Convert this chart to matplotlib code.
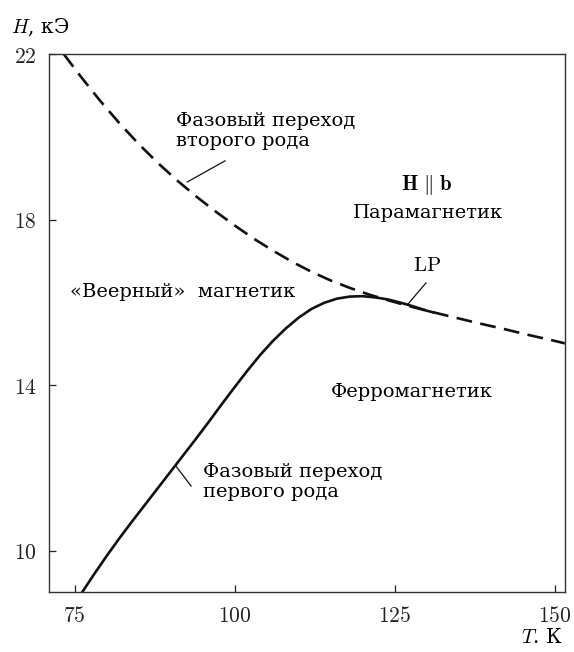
import matplotlib.pyplot as plt

plt.rcParams['font.family'] = ['DejaVu Serif']
plt.rcParams['mathtext.fontset'] = 'cm'

# Second-order transition (dashed)
t2 = [73.3, 76, 79, 82, 85, 88, 91, 94, 97, 100, 103, 106, 109, 112, 115,
      118, 121, 124, 127, 130, 134, 138, 142, 146, 150, 151.6]
h2 = [22.0, 21.45, 20.87, 20.33, 19.83, 19.37, 18.95, 18.56, 18.2, 17.86,
      17.54, 17.25, 16.98, 16.74, 16.53, 16.35, 16.19, 16.05, 15.92, 15.80,
      15.65, 15.50, 15.36, 15.21, 15.07, 15.01]

# First-order transition (solid)
t1 = [76.2, 78, 80, 82, 84, 86, 88, 90, 92, 94, 96, 98, 100, 102, 104, 106,
      108, 110, 112, 114, 116, 118, 120, 122, 124, 126, 128, 130, 131]
h1 = [9.0, 9.42, 9.87, 10.3, 10.71, 11.11, 11.51, 11.91, 12.31, 12.71, 13.12,
      13.54, 13.95, 14.35, 14.73, 15.07, 15.37, 15.63, 15.84, 15.99, 16.09,
      16.14, 16.15, 16.12, 16.07, 15.99, 15.90, 15.80, 15.76]

xticks = [75, 100, 125, 150]
yticks = [10, 14, 18, 22]

fig = plt.figure(figsize=(5.74, 6.52), dpi=100)
ax = fig.add_axes([0.0854, 0.092, 0.8986, 0.825])

ax.plot(t2, h2, color='#111111', lw=1.9, dashes=(6, 3.2))
ax.plot(t1, h1, color='#111111', lw=1.9)

# leader lines
ax.plot([98.5, 92.6], [19.42, 18.91], color='#111111', lw=0.9)
ax.plot([90.8, 93.2], [12.05, 11.56], color='#111111', lw=0.9)
ax.plot([129.9, 127.1], [16.47, 15.96], color='#111111', lw=0.9)

fs = 14
ax.text(90.8, 20.14, 'Фазовый переход\nвторого рода', fontsize=fs,
        ha='left', va='center', linespacing=1.1)
ax.text(95.1, 11.66, 'Фазовый переход\nпервого рода', fontsize=fs,
        ha='left', va='center', linespacing=1.1)
ax.text(74.3, 16.25, '«Веерный»  магнетик', fontsize=fs, ha='left', va='center')
ax.text(130.1, 18.84, r'$\mathbf{H}\ \|\ \mathbf{b}$', fontsize=fs + 1,
        ha='center', va='center')
ax.text(130.2, 18.16, 'Парамагнетик', fontsize=fs, ha='center', va='center')
ax.text(130.1, 16.88, r'$\mathrm{LP}$', fontsize=fs + 1, ha='center', va='center')
ax.text(127.7, 13.84, 'Ферромагнетик', fontsize=fs, ha='center', va='center')

ax.set_xlim(71, 151.6)
ax.set_ylim(9, 22)
ax.set_xticks(xticks)
ax.set_xticklabels(['$%d$' % v for v in xticks])
ax.set_yticks(yticks)
ax.set_yticklabels(['$%d$' % v for v in yticks])
ax.tick_params(direction='in', length=5, width=0.9, labelsize=15.5, pad=9,
               colors='#222222')
for s in ax.spines.values():
    s.set_linewidth(1.0)
    s.set_color('#333333')

fig.text(0.02, 0.958, r'$H$, кЭ', fontsize=14.5, ha='left', va='center')
fig.text(0.98, 0.023, r'$T$. К', fontsize=14.5, ha='right', va='center')

fig.savefig('out.png', dpi=100)
